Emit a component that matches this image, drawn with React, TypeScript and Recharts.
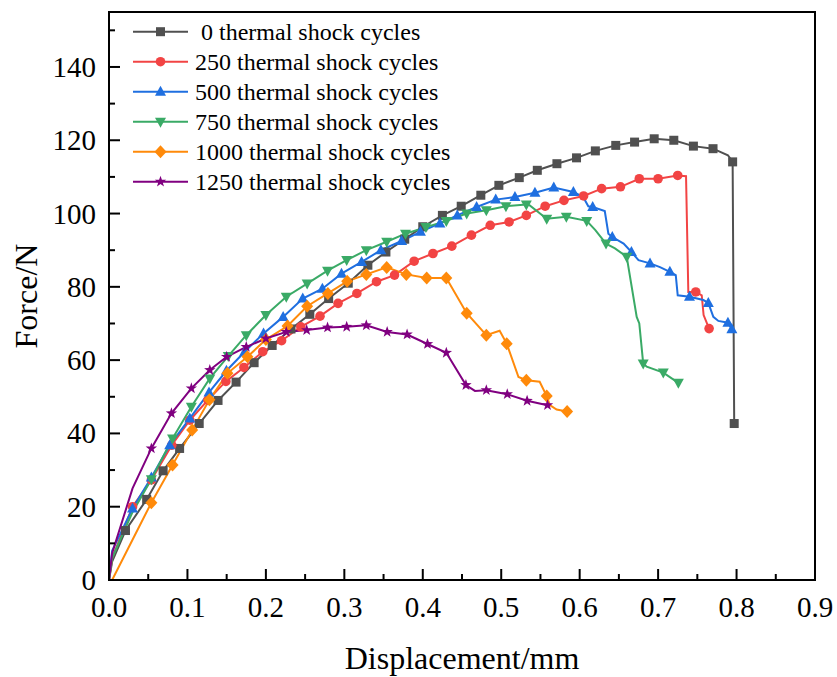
import { LineChart, Line, XAxis, YAxis, ReferenceArea } from "recharts";

const FONT = "'Liberation Serif', 'Times New Roman', serif";

const xTicks = [0, 0.05, 0.1, 0.15, 0.2, 0.25, 0.3, 0.35, 0.4, 0.45, 0.5, 0.55, 0.6, 0.65, 0.7, 0.75, 0.8, 0.85, 0.9];
const yTicks = [0, 10, 20, 30, 40, 50, 60, 70, 80, 90, 100, 110, 120, 130, 140, 150];

const seriesNames = [
  " 0 thermal shock cycles",
  "250 thermal shock cycles",
  "500 thermal shock cycles",
  "750 thermal shock cycles",
  "1000 thermal shock cycles",
  "1250 thermal shock cycles",
];

// 0 cycles
const x0 = [0, 0.004, 0.021, 0.048, 0.069, 0.09, 0.115, 0.139, 0.162, 0.185, 0.208, 0.232, 0.256, 0.28, 0.305, 0.33, 0.353, 0.377, 0.4, 0.425, 0.449, 0.474, 0.497, 0.523, 0.546, 0.571, 0.596, 0.62, 0.646, 0.67, 0.695, 0.72, 0.745, 0.77, 0.789, 0.795, 0.797];
const y0 = [0, 5, 13.5, 22, 29.8, 35.9, 42.7, 49, 54, 59.3, 64, 68.5, 72.5, 76.8, 81, 85.9, 89.5, 93, 96.4, 99.5, 102, 105, 107.7, 109.8, 111.8, 113.6, 115.2, 117.1, 118.6, 119.5, 120.4, 120, 118.4, 117.7, 115.9, 114.1, 42.7];
const plain0 = [0, 1, 34];

// 250 cycles
const x1 = [0, 0.004, 0.03, 0.054, 0.08, 0.103, 0.126, 0.149, 0.172, 0.196, 0.22, 0.2445, 0.269, 0.292, 0.316, 0.341, 0.364, 0.389, 0.413, 0.437, 0.462, 0.486, 0.51, 0.532, 0.556, 0.58, 0.605, 0.628, 0.652, 0.676, 0.7, 0.725, 0.7356, 0.7385, 0.748, 0.7556, 0.758, 0.765];
const y1 = [0, 6, 20, 27.3, 36.8, 43.6, 49.1, 54.2, 58, 62.3, 65.3, 69.1, 72, 75.5, 78.2, 81.4, 83.2, 87, 89.1, 91.1, 94.1, 96.8, 97.7, 99.5, 102, 103.6, 104.8, 106.8, 107.3, 109.5, 109.5, 110.4, 110.2, 78.6, 78.6, 77.7, 72.3, 68.6];
const plain1 = [0, 1, 32, 33, 35, 36];

// 500 cycles
const x2 = [0, 0.004, 0.03, 0.054, 0.0774, 0.103, 0.1275, 0.1497, 0.173, 0.197, 0.222, 0.247, 0.272, 0.2964, 0.322, 0.3466, 0.373, 0.397, 0.4218, 0.444, 0.4686, 0.493, 0.5175, 0.543, 0.567, 0.592, 0.6045, 0.611, 0.6166, 0.632, 0.6366, 0.6416, 0.656, 0.666, 0.675, 0.6897, 0.7024, 0.715, 0.7225, 0.725, 0.74, 0.7577, 0.764, 0.7704, 0.7768, 0.789, 0.794];
const y2 = [0, 8, 19.5, 28, 36.8, 44.1, 51.2, 57.1, 62.3, 67.3, 71.8, 76.8, 79.5, 83.6, 86.8, 90, 92.5, 95, 97.3, 99.5, 101.8, 103.8, 104.5, 105.7, 107.1, 105.9, 104.5, 102, 101.8, 100.7, 94.5, 93.6, 91.8, 89.5, 87.3, 86.4, 85.4, 84.1, 83.2, 77.7, 77.3, 76.4, 75.6, 71.8, 70.7, 70.2, 68.4];
const plain2 = [0, 1, 26, 27, 29, 30, 32, 34, 36, 38, 39, 41, 43, 44];

// 750 cycles
const x3 = [0, 0.004, 0.03, 0.054, 0.081, 0.105, 0.1285, 0.152, 0.175, 0.2, 0.226, 0.2526, 0.2786, 0.303, 0.328, 0.354, 0.378, 0.404, 0.43, 0.456, 0.481, 0.506, 0.532, 0.536, 0.558, 0.583, 0.609, 0.62, 0.6336, 0.645, 0.66, 0.6727, 0.676, 0.681, 0.6855, 0.7066, 0.7258];
const y3 = [0, 6, 18.5, 27.5, 38.6, 47.3, 55, 61.1, 66.8, 72.3, 77.3, 80.9, 84.4, 87.3, 90, 92.3, 94.5, 96.3, 98, 100, 100.9, 102, 102.5, 102.3, 98.6, 99.1, 98, 95.5, 91.8, 90.5, 88.2, 71.8, 70, 59.1, 58.2, 56.6, 53.8];
const plain3 = [0, 1, 2, 23, 27, 29, 31, 32, 34];

// 1000 cycles
const x4 = [0.004, 0.03, 0.054, 0.081, 0.106, 0.128, 0.151, 0.1765, 0.2, 0.2276, 0.2526, 0.279, 0.3036, 0.328, 0.354, 0.379, 0.405, 0.43, 0.456, 0.481, 0.498, 0.507, 0.522, 0.532, 0.549, 0.558, 0.562, 0.5706, 0.584];
const y4 = [0, 11, 21.1, 31.4, 40.9, 49.2, 56.4, 60.9, 65.6, 69.3, 74.7, 78.2, 81.5, 83.4, 85.3, 83.4, 82.4, 82.4, 72.8, 66.8, 68, 64.5, 55.4, 54.5, 54.1, 50.2, 47.7, 46.5, 46];
const plain4 = [0, 1, 20, 22, 24, 26, 27];

// 1250 cycles
const x5 = [0, 0.004, 0.03, 0.054, 0.0796, 0.105, 0.1285, 0.15, 0.175, 0.2, 0.226, 0.252, 0.2786, 0.303, 0.328, 0.3546, 0.38, 0.406, 0.43, 0.455, 0.4665, 0.481, 0.5077, 0.533, 0.559];
const y5 = [0, 7.3, 25, 35.9, 45.5, 52.3, 57.3, 60.9, 63.6, 65.9, 67.7, 68.2, 68.9, 69.1, 69.5, 67.7, 67, 64.4, 62, 53.2, 51.6, 51.8, 50.7, 48.9, 47.7];
const plain5 = [0, 1, 2, 20];

type Shape = "square" | "circle" | "up" | "down" | "diamond" | "star";

const series = [
  { xs: x0, ys: y0, plain: plain0, color: "#505050", shape: "square" as Shape },
  { xs: x1, ys: y1, plain: plain1, color: "#F24444", shape: "circle" as Shape },
  { xs: x2, ys: y2, plain: plain2, color: "#1F6FE0", shape: "up" as Shape },
  { xs: x3, ys: y3, plain: plain3, color: "#3AAA66", shape: "down" as Shape },
  { xs: x4, ys: y4, plain: plain4, color: "#FF8A0A", shape: "diamond" as Shape },
  { xs: x5, ys: y5, plain: plain5, color: "#800080", shape: "star" as Shape },
];

const marker = (shape: Shape, cx: number, cy: number, color: string, key?: any) => {
  switch (shape) {
    case "square":
      return <rect key={key} x={cx - 4.5} y={cy - 4.5} width={9} height={9} fill={color} />;
    case "circle":
      return <circle key={key} cx={cx} cy={cy} r={4.8} fill={color} />;
    case "up":
      return <polygon key={key} points={`${cx},${cy - 6} ${cx + 5.5},${cy + 4} ${cx - 5.5},${cy + 4}`} fill={color} />;
    case "down":
      return <polygon key={key} points={`${cx},${cy + 6} ${cx + 5.5},${cy - 4} ${cx - 5.5},${cy - 4}`} fill={color} />;
    case "diamond":
      return <polygon key={key} points={`${cx},${cy - 6.5} ${cx + 6},${cy} ${cx},${cy + 6.5} ${cx - 6},${cy}`} fill={color} />;
    default: {
      const pts: string[] = [];
      for (let i = 0; i < 10; i++) {
        const r = i % 2 === 0 ? 6 : 2.4;
        const a = -Math.PI / 2 + (i * Math.PI) / 5;
        pts.push(`${cx + r * Math.cos(a)},${cy + r * Math.sin(a)}`);
      }
      return <polygon key={key} points={pts.join(" ")} fill={color} />;
    }
  }
};

const XTick = (props: any) => {
  const { x, y, payload } = props;
  const v = payload.value as number;
  const major = Math.round(v * 100) % 10 === 0;
  return (
    <g>
      <line x1={x} y1={y} x2={x} y2={y - (major ? 11 : 6)} stroke="#000" strokeWidth={2} />
      {major && (
        <text x={x} y={y + 37} textAnchor="middle" fontSize={29} fontFamily={FONT} fill="#000">
          {v.toFixed(1)}
        </text>
      )}
    </g>
  );
};

const YTick = (props: any) => {
  const { x, y, payload } = props;
  const v = payload.value as number;
  const major = v % 20 === 0;
  return (
    <g>
      <line x1={x} y1={y} x2={x + (major ? 11 : 6)} y2={y} stroke="#000" strokeWidth={2} />
      {major && (
        <text x={x - 13} y={y + 10} textAnchor="end" fontSize={29} fontFamily={FONT} fill="#000">
          {v}
        </text>
      )}
    </g>
  );
};

export default function App() {
  return (
    <div style={{ position: "absolute", left: 0, top: 0, width: 837, height: 677, background: "#fff" }}>
      <LineChart width={837} height={677} margin={{ top: 12, right: 22, left: 0, bottom: 0 }}>
        <XAxis
          type="number"
          dataKey="x"
          domain={[0, 0.9]}
          ticks={xTicks}
          interval={0}
          allowDataOverflow
          height={97}
          tickSize={0}
          tickMargin={0}
          tickLine={false}
          tick={<XTick />}
          axisLine={{ stroke: "#000", strokeWidth: 2 }}
          label={{
            content: () => (
              <text x={462} y={669} textAnchor="middle" fontSize={32} fontFamily={FONT} fill="#000">
                Displacement/mm
              </text>
            ),
          }}
        />
        <YAxis
          type="number"
          domain={[0, 155]}
          ticks={yTicks}
          interval={0}
          allowDataOverflow
          width={109}
          tickSize={0}
          tickMargin={0}
          tickLine={false}
          tick={<YTick />}
          axisLine={{ stroke: "#000", strokeWidth: 2 }}
          label={{
            content: () => (
              <text transform="translate(37,296) rotate(-90)" textAnchor="middle" fontSize={32} fontFamily={FONT} fill="#000">
                Force/N
              </text>
            ),
          }}
        />
        <ReferenceArea x1={0} x2={0.9} y1={0} y2={155} stroke="#000" strokeWidth={2} fill="none" fillOpacity={0} />
        {series.map((s, si) => (
          <Line
            key={si}
            data={s.xs.map((x, i) => ({ x, y: s.ys[i] }))}
            dataKey="y"
            type="linear"
            stroke={s.color}
            strokeWidth={2}
            isAnimationActive={false}
            activeDot={false}
            dot={(p: any) =>
              s.plain.includes(p.index) ? <g key={p.index} /> : marker(s.shape, p.cx, p.cy, s.color, p.index)
            }
          />
        ))}
      </LineChart>
      <svg width={837} height={677} style={{ position: "absolute", left: 0, top: 0, pointerEvents: "none" }}>
        {series.map((s, i) => {
          const cy = 31.7 + 30 * i;
          return (
            <g key={i}>
              <line x1={133} y1={cy} x2={188} y2={cy} stroke={s.color} strokeWidth={2} />
              {marker(s.shape, 160.5, cy, s.color)}
              <text x={195} y={cy + 8} fontSize={24} fontFamily={FONT} fill="#000" xmlSpace="preserve" style={{ whiteSpace: "pre" }}>
                {seriesNames[i]}
              </text>
            </g>
          );
        })}
      </svg>
    </div>
  );
}
